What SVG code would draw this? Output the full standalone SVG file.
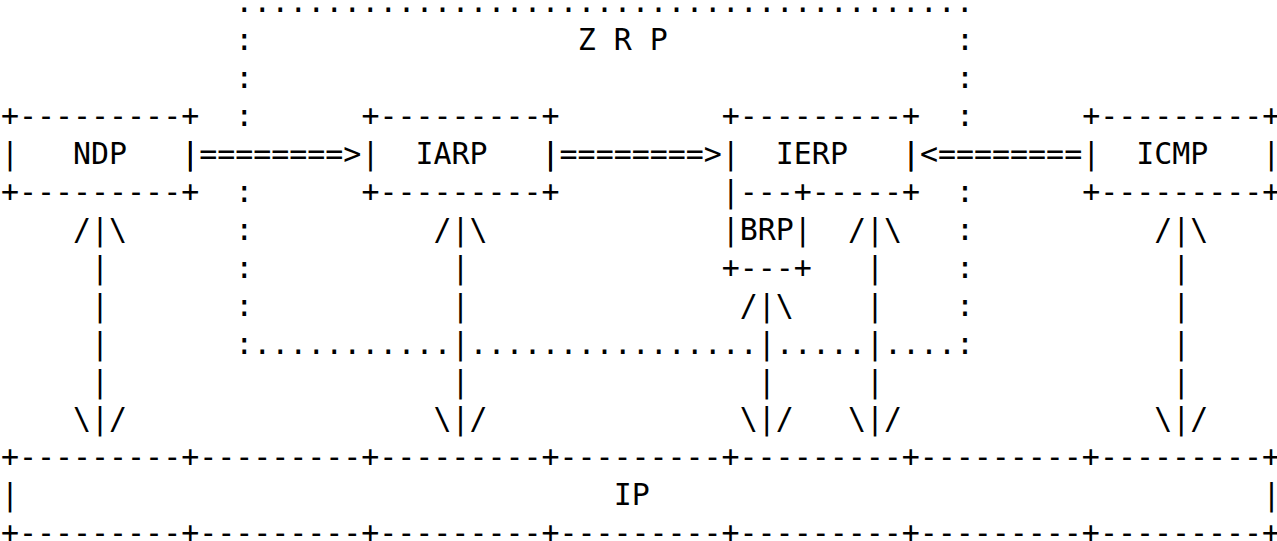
<svg xmlns="http://www.w3.org/2000/svg" width="1277" height="541" viewBox="0 0 1277 541">
  <style>
    text { font-family: "DejaVu Sans Mono", "Liberation Mono", monospace; font-size: 29.93px; fill: #000; white-space: pre; }
  </style>
  <rect x="0" y="0" width="1277" height="541" fill="#fff"/>

  <!-- ZRP zone: dotted frame around IARP / IERP -->
  <g id="zrp">
    <text x="235.26" y="12">.........................................</text>
    <text x="235.26" y="49.95">:</text>
    <text x="577.64" y="49.95">Z R P</text>
    <text x="956.06" y="49.95">:</text>
    <text x="235.26" y="87.9">:</text>
    <text x="956.06" y="87.9">:</text>
    <text x="235.26" y="125.85">:</text>
    <text x="956.06" y="125.85">:</text>
    <text x="235.26" y="201.75">:</text>
    <text x="956.06" y="201.75">:</text>
    <text x="235.26" y="239.7">:</text>
    <text x="956.06" y="239.7">:</text>
    <text x="235.26" y="277.65">:</text>
    <text x="956.06" y="277.65">:</text>
    <text x="235.26" y="315.6">:</text>
    <text x="956.06" y="315.6">:</text>
    <text x="235.26" y="353.55">:...........</text>
    <text x="469.52" y="353.55">................</text>
    <text x="775.86" y="353.55">.....</text>
    <text x="883.98" y="353.55">....:</text>
  </g>

  <g id="ndp">
    <text x="1" y="125.85">+---------+</text>
    <text x="1" y="163.8">|   NDP   |</text>
    <text x="1" y="201.75">+---------+</text>
  </g>

  <g id="iarp">
    <text x="361.4" y="125.85">+---------+</text>
    <text x="361.4" y="163.8">|  IARP   |</text>
    <text x="361.4" y="201.75">+---------+</text>
  </g>

  <g id="ierp">
    <text x="721.8" y="125.85">+---------+</text>
    <text x="721.8" y="163.8">|  IERP   |</text>
    <text x="721.8" y="201.75">|---+-----+</text>
  </g>

  <g id="brp">
    <text x="721.8" y="239.7">|BRP|</text>
    <text x="721.8" y="277.65">+---+</text>
  </g>

  <g id="icmp">
    <text x="1082.2" y="125.85">+---------+</text>
    <text x="1082.2" y="163.8">|  ICMP   |</text>
    <text x="1082.2" y="201.75">+---------+</text>
  </g>

  <g id="ip">
    <text x="1" y="467.4">+---------+---------+---------+---------+---------+---------+---------+</text>
    <text x="1" y="505.35">|</text>
    <text x="613.68" y="505.35">IP</text>
    <text x="1262.4" y="505.35">|</text>
    <text x="1" y="543.3">+---------+---------+---------+---------+---------+---------+---------+</text>
  </g>

  <g id="connectors">
    <!-- horizontal links -->
    <text x="181.2" y="163.8">|========&gt;</text>
    <text x="541.6" y="163.8">|========&gt;</text>
    <text x="902" y="163.8">|&lt;========</text>

    <!-- NDP <-> IP -->
    <text x="73.08" y="239.7">/|\</text>
    <text x="91.1" y="277.65">|</text>
    <text x="91.1" y="315.6">|</text>
    <text x="91.1" y="353.55">|</text>
    <text x="91.1" y="391.5">|</text>
    <text x="73.08" y="429.45">\|/</text>

    <!-- IARP <-> IP -->
    <text x="433.48" y="239.7">/|\</text>
    <text x="451.5" y="277.65">|</text>
    <text x="451.5" y="315.6">|</text>
    <text x="451.5" y="353.55">|</text>
    <text x="451.5" y="391.5">|</text>
    <text x="433.48" y="429.45">\|/</text>

    <!-- BRP <-> IP -->
    <text x="739.82" y="315.6">/|\</text>
    <text x="757.84" y="353.55">|</text>
    <text x="757.84" y="391.5">|</text>
    <text x="739.82" y="429.45">\|/</text>

    <!-- IERP <-> IP -->
    <text x="847.94" y="239.7">/|\</text>
    <text x="865.96" y="277.65">|</text>
    <text x="865.96" y="315.6">|</text>
    <text x="865.96" y="353.55">|</text>
    <text x="865.96" y="391.5">|</text>
    <text x="847.94" y="429.45">\|/</text>

    <!-- ICMP <-> IP -->
    <text x="1154.28" y="239.7">/|\</text>
    <text x="1172.3" y="277.65">|</text>
    <text x="1172.3" y="315.6">|</text>
    <text x="1172.3" y="353.55">|</text>
    <text x="1172.3" y="391.5">|</text>
    <text x="1154.28" y="429.45">\|/</text>
  </g>
</svg>
